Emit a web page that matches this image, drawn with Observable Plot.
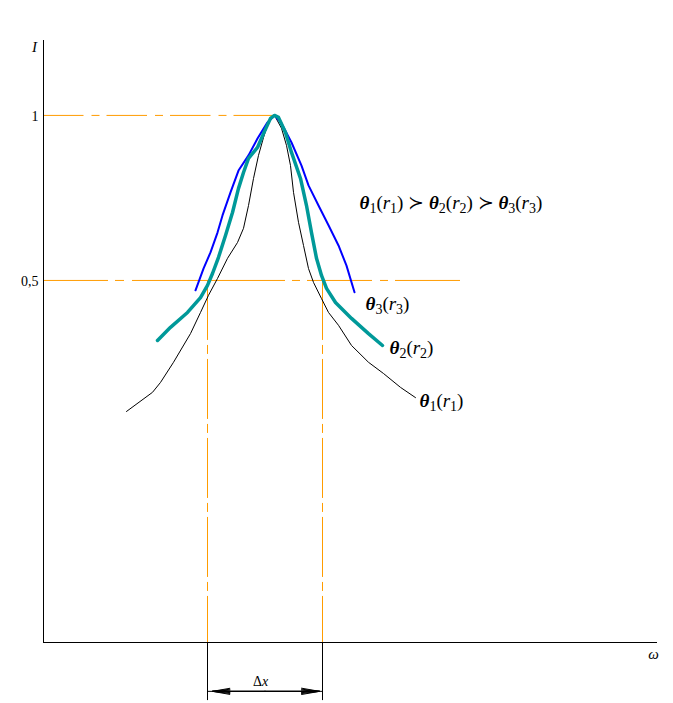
<!DOCTYPE html>
<html><head><meta charset="utf-8">
<script src="https://cdn.jsdelivr.net/npm/d3@7"></script>
<script src="https://cdn.jsdelivr.net/npm/@observablehq/plot@0.6"></script>
<style>body{margin:0;background:#fff}</style>
</head><body><div id="chart"></div>
<script>
// ---- data (ω in arbitrary units, I normalised) ----
const theta1Omega = [0.83,1.09,1.17,1.30,1.47,1.57,1.65,1.74,1.84,1.94,2.00,2.05,2.10,2.15,2.20,2.25,2.31,2.38,2.43,2.47,2.50,2.55,2.60,2.65,2.70,2.78,2.85,2.95,3.08,3.25,3.40,3.57,3.72];
const theta1I     = [0.103,0.161,0.191,0.252,0.339,0.403,0.455,0.506,0.567,0.615,0.658,0.727,0.809,0.879,0.933,0.979,1.00,0.961,0.909,0.848,0.767,0.676,0.606,0.536,0.494,0.445,0.403,0.364,0.303,0.252,0.218,0.176,0.145];

const theta2Omega = [1.14,1.27,1.44,1.57,1.64,1.69,1.75,1.82,1.89,1.95,2.00,2.05,2.14,2.20,2.27,2.31,2.35,2.42,2.48,2.57,2.63,2.68,2.73,2.78,2.83,2.92,3.08,3.25,3.39];
const theta2I     = [0.318,0.358,0.403,0.448,0.485,0.521,0.570,0.636,0.706,0.779,0.827,0.870,0.903,0.945,0.991,1.00,0.994,0.948,0.888,0.809,0.727,0.645,0.567,0.515,0.476,0.433,0.385,0.339,0.303];

const theta3Omega = [1.52,1.60,1.67,1.74,1.79,1.87,1.95,2.05,2.14,2.24,2.31,2.38,2.48,2.58,2.65,2.75,2.85,2.95,3.03,3.11];
const theta3I     = [0.470,0.536,0.585,0.645,0.697,0.767,0.833,0.879,0.930,0.979,1.00,0.976,0.918,0.848,0.788,0.727,0.667,0.606,0.545,0.464];

const tickValues = [0.5, 1];
const tickLabels = ["0,5", "1"];

const peakOmega = 2.31;
const halfLeftOmega = 1.64;
const halfRightOmega = 2.79;

const seriesNames = ["θ1(r1)", "θ2(r2)", "θ3(r3)"];
const orderLabel = "θ1(r1) ≻ θ2(r2) ≻ θ3(r3)";
const seriesLabelOmega = [3.76, 3.46, 3.22];
const seriesLabelI = [0.134, 0.295, 0.428];

// ---- scales ----
const xDomain = [0, 6.14];
const yDomain = [-0.597, 1.227];
const yBelow = -0.773;   // end of extension lines below the axis
const yDim = -0.745;     // dimension line level

const rows = (xs, ys) => xs.map((x, i) => ({omega: x, I: ys[i]}));
const s1 = rows(theta1Omega, theta1I);
const s2 = rows(theta2Omega, theta2I);
const s3 = rows(theta3Omega, theta3I);

const ORANGE = "#ff9c00";
const serif = "Liberation Serif";

const headMarks = [8, 14, 20].flatMap(a => [
  Plot.arrow([{x1: 2.215, x2: halfLeftOmega + 0.05}], {x1: "x1", x2: "x2", y1: () => yDim, y2: () => yDim, bend: 0, headAngle: a, headLength: 32, strokeWidth: 1, stroke: "black"}),
  Plot.arrow([{x1: 2.215, x2: halfRightOmega - 0.03}], {x1: "x1", x2: "x2", y1: () => yDim, y2: () => yDim, bend: 0, headAngle: a, headLength: 32, strokeWidth: 1, stroke: "black"})
]);

const chart = Plot.plot({
  width: 673,
  height: 703,
  marginLeft: 43,
  marginRight: 16,
  marginTop: 40,
  marginBottom: 61,
  x: {domain: xDomain, axis: null},
  y: {domain: yDomain, axis: null},
  marks: [
    // reference lines
    Plot.ruleY([{y: 1, x1: 0, x2: peakOmega}], {y: "y", x1: "x1", x2: "x2", stroke: ORANGE, strokeDasharray: "40.5,8,8,7"}),
    Plot.ruleY([{y: 0.5, x1: 0, x2: 4.17}], {y: "y", x1: "x1", x2: "x2", stroke: ORANGE, strokeDasharray: "65,7,9,8,153,7,8,7,65,8,8,7,65"}),
    Plot.ruleX([{x: halfLeftOmega, y1: 0.5, y2: yDomain[0]}, {x: halfRightOmega, y1: 0.5, y2: yDomain[0]}], {x: "x", y1: "y1", y2: "y2", stroke: ORANGE, strokeDasharray: "60,5,9,5"}),
    Plot.ruleX([{x: halfLeftOmega}, {x: halfRightOmega}], {x: "x", y1: () => yDomain[0], y2: () => yBelow, stroke: "black"}),
    // axes
    Plot.ruleX([0], {y1: () => yDomain[0], y2: () => yDomain[1], stroke: "black"}),
    Plot.ruleY([yDomain[0]], {x1: () => 0, x2: () => xDomain[1], stroke: "black"}),
    // curves
    Plot.line(s1, {x: "omega", y: "I", stroke: "black", strokeWidth: 1}),
    Plot.line(s3, {x: "omega", y: "I", stroke: "#0000ff", strokeWidth: 2}),
    Plot.line(s2, {x: "omega", y: "I", stroke: "#009999", strokeWidth: 3.5}),
    // dimension Δx
    Plot.ruleY([yDim], {x1: () => halfLeftOmega, x2: () => halfRightOmega, stroke: "black"}),
    ...headMarks,
    Plot.text(["Δx"], {x: () => 2.17, y: () => -0.715, text: d => d, fontFamily: serif, fontSize: 14}),
    // ticks
    Plot.text(tickValues, {x: () => 0, y: d => d, text: (d, i) => tickLabels[i], textAnchor: "end", dx: -5, dy: 1, fontFamily: serif, fontSize: 14}),
    // axis titles
    Plot.text(["I"], {x: () => -0.09, y: () => 1.206, text: d => d, fontFamily: serif, fontStyle: "italic", fontSize: 15}),
    Plot.text(["ω"], {x: () => 6.10, y: () => -0.633, text: d => d, fontFamily: serif, fontStyle: "italic", fontSize: 15}),
    // series labels
    Plot.text(seriesNames, {x: (d, i) => seriesLabelOmega[i], y: (d, i) => seriesLabelI[i], text: d => d, textAnchor: "start", fontFamily: serif, fontSize: 19}),
    Plot.text([orderLabel], {x: () => 3.16, y: () => 0.7345, text: d => d, textAnchor: "start", fontFamily: serif, fontSize: 19})
  ]
});

// rich text: θ bold italic, Latin letters italic, digits as subscripts
d3.select(chart).selectAll("text").filter(function() {
  return /[θΔ]/.test(this.textContent);
}).each(function() {
  const str = this.textContent;
  const sel = d3.select(this);
  sel.text(null);
  let down = false;
  for (const ch of str) {
    const ts = sel.append("tspan").text(ch);
    if (ch === "θ") ts.attr("font-weight", "bold").attr("font-style", "italic");
    else if (/[a-zA-Z]/.test(ch)) ts.attr("font-style", "italic");
    if (/\d/.test(ch)) {
      ts.attr("font-size", "14px");
      if (!down) { ts.attr("dy", 4); down = true; }
    } else if (down) {
      ts.attr("dy", -4); down = false;
    }
  }
});

document.getElementById("chart").append(chart);
</script>
</body></html>
